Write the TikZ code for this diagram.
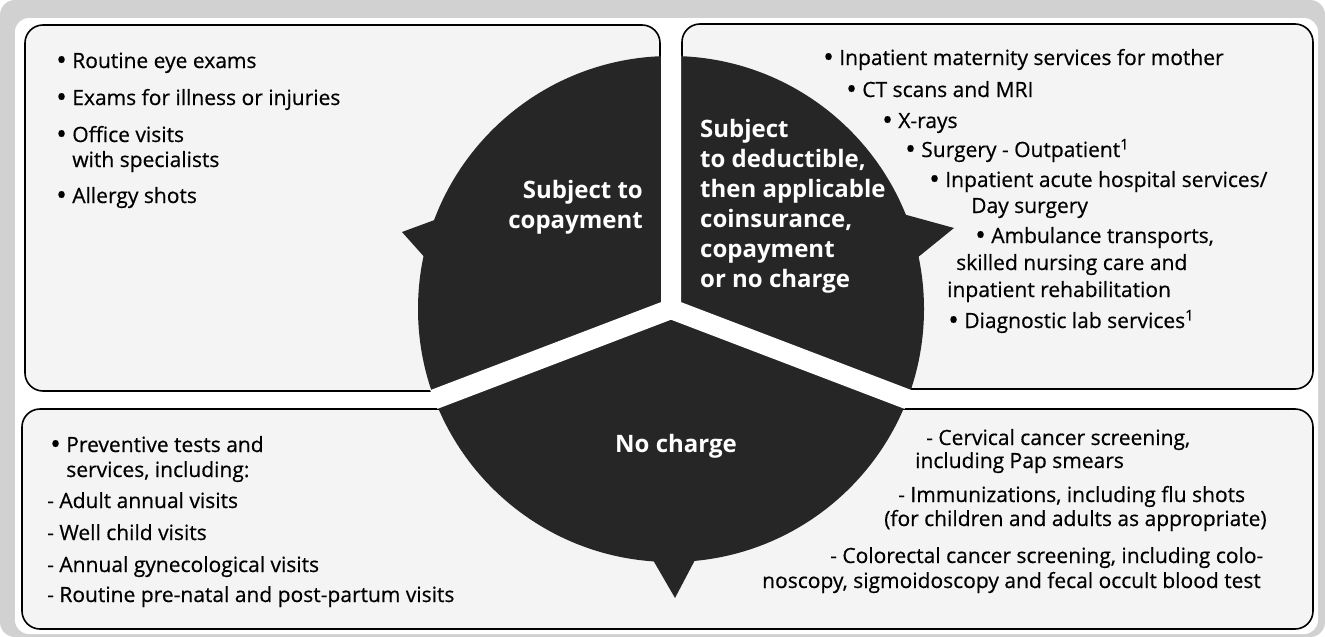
\documentclass[tikz,border=0pt]{standalone}
\usepackage{fontspec}
\setmainfont{Open Sans}
\newfontfamily\listfont{Open Sans}[FakeBold=0.5]
\usepackage{graphicx}
\usepackage{tikz}

\definecolor{sectorgray}{gray}{0.15}
\definecolor{framegray}{gray}{0.82}
\definecolor{panelgray}{gray}{0.955}

\newcommand{\dotmark}{\raisebox{-0.09em}{\scalebox{1.35}{\textbullet}}}

\begin{document}
\begin{tikzpicture}[x=1pt, y=-1pt,
    panel/.style={draw=black, line width=1.6pt, fill=panelgray, rounded corners=18pt},
    entry/.style={anchor=base west, inner sep=0pt, align=left, font=\listfont\fontsize{21}{25}\selectfont},
    sector/.style={inner sep=0pt, text=white, font=\bfseries\fontsize{24}{30}\selectfont}]

    \useasboundingbox (0,0) rectangle (1325,637);
    \fill[white] (0,0) rectangle (1325,637);
    \fill[framegray, rounded corners=15pt] (0,0) rectangle (1325,637);
    \fill[white, rounded corners=14pt] (15,18) rectangle (1318,634);

    \draw[panel] (25,25) rectangle (660,391);
    \draw[panel] (682,24) rectangle (1313,389);
    \draw[panel] (22,409) rectangle (1313,629);

    \coordinate (O) at (671,309);
    \fill[sectorgray] (O) circle (253pt);
    \fill[sectorgray] (440,218) -- (402,232) -- (427,260) -- cycle;
    \fill[sectorgray] (903,214) -- (954,228) -- (917,258) -- cycle;
    \fill[sectorgray] (653,560) -- (675,598) -- (695,560) -- cycle;

    \begin{scope}
      \clip (O) circle (254pt);
      \draw[white, line width=20pt] (O) -- ++(0,-270)
                                    (O) -- ++(-262,100)
                                    (O) -- ++(262,100);
    \end{scope}

    \node[sector, align=right, anchor=base east] (SA) at (643,228) {Subject to\\copayment};
    \node[sector, align=left, anchor=base west] (SB) at (700,287)
        {Subject\\to deductible,\\then applicable\\coinsurance,\\copayment\\or no charge};
    \node[sector, anchor=base west] (SC) at (615,452) {No charge};

    \node[entry] (A1) at (56,68) {\dotmark\ Routine eye exams};
    \node[entry] (A2) at (56,105) {\dotmark\ Exams for illness or injuries};
    \node[entry] (A3) at (56,167) {\dotmark\ Office visits\\\hphantom{\dotmark\ }with specialists};
    \node[entry] (A4) at (56,203) {\dotmark\ Allergy shots};

    \node[entry] (B1) at (823,65) {\dotmark\ Inpatient maternity services for mother};
    \node[entry] (B2) at (846,97) {\dotmark\ CT scans and MRI};
    \node[entry] (B3) at (882,128) {\dotmark\ X-rays};
    \node[entry] (B4) at (905,157) {\dotmark\ Surgery - Outpatient\textsuperscript{1}};
    \node[entry] (B5) at (929,187) {\dotmark\ Inpatient acute hospital services/};
    \node[entry] (B5b) at (971,213) {Day surgery};
    \node[entry] (B6) at (975,243) {\dotmark\ Ambulance transports,};
    \node[entry] (B6b) at (956,270) {skilled nursing care and};
    \node[entry] (B6c) at (947,297) {inpatient rehabilitation};
    \node[entry] (B7) at (948,328) {\dotmark\ Diagnostic lab services\textsuperscript{1}};

    \node[entry] (C1) at (50,477) {\dotmark\ Preventive tests and\\\hphantom{\dotmark\ }services, including:};
    \node[entry] (C2) at (47,508) {-\ Adult annual visits};
    \node[entry] (C3) at (47,540) {-\ Well child visits};
    \node[entry] (C4) at (47,572) {-\ Annual gynecological visits};
    \node[entry] (C5) at (47,602) {-\ Routine pre-natal and post-partum visits};

    \node[entry] (D1) at (926,445) {-\ Cervical cancer screening,};
    \node[entry] (D1b) at (915,468) {including Pap smears};
    \node[entry] (D2) at (898,502) {-\ Immunizations, including flu shots};
    \node[entry] (D2b) at (884,526) {(for children and adults as appropriate)};
    \node[entry] (D3) at (830,563) {-\ Colorectal cancer screening, including colo-};
    \node[entry] (D3b) at (762,588) {noscopy, sigmoidoscopy and fecal occult blood test};
\end{tikzpicture}
\end{document}
